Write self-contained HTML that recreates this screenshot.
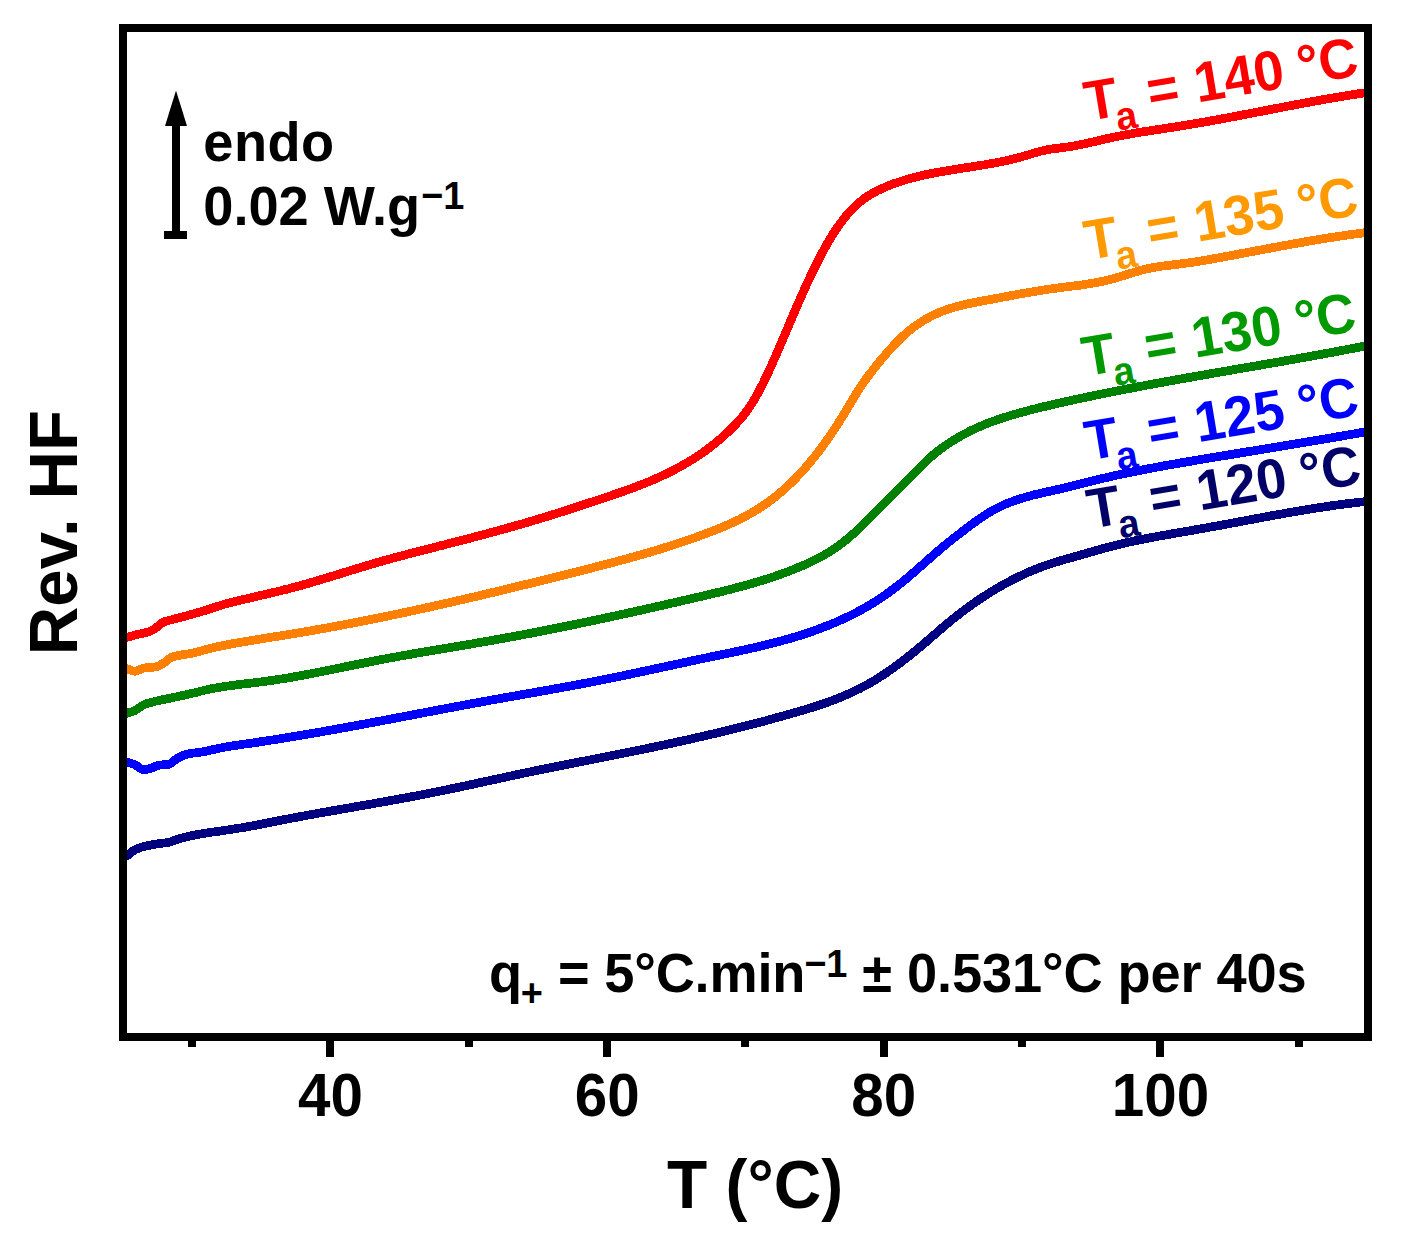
<!DOCTYPE html>
<html><head><meta charset="utf-8">
<style>
html,body{margin:0;padding:0;background:#fff;}
svg{display:block;font-family:"Liberation Sans",sans-serif;}
</style></head>
<body>
<svg width="1401" height="1244" viewBox="0 0 1401 1244">
<rect x="0" y="0" width="1401" height="1244" fill="#fff"/>
<defs><clipPath id="ax"><rect x="123" y="28" width="1245" height="1009"/></clipPath></defs>
<g clip-path="url(#ax)" shape-rendering="crispEdges">
<polyline points="123.0,858.0 124.5,857.2 126.0,856.3 127.5,855.4 129.0,854.3 130.5,853.0 132.0,851.8 133.5,850.7 135.0,849.8 136.5,849.1 138.0,848.5 139.5,847.9 141.0,847.4 142.5,846.9 144.0,846.5 145.5,846.1 147.0,845.8 148.5,845.5 150.0,845.2 151.5,844.9 153.0,844.6 154.5,844.4 156.0,844.1 157.5,843.9 159.0,843.7 160.5,843.5 162.0,843.3 163.5,843.1 165.0,842.9 166.5,842.7 168.0,842.4 169.5,842.1 171.0,841.7 172.5,841.2 174.0,840.6 175.5,840.1 177.0,839.5 178.5,839.0 180.0,838.6 181.5,838.2 183.0,837.8 184.5,837.4 186.0,837.0 187.5,836.7 189.0,836.3 190.5,836.0 192.0,835.6 193.5,835.3 195.0,835.0 196.5,834.7 198.0,834.4 199.5,834.2 201.0,833.9 202.5,833.6 204.0,833.4 205.5,833.1 207.0,832.9 208.5,832.7 210.0,832.5 211.5,832.2 213.0,832.0 214.5,831.8 216.0,831.6 217.5,831.4 219.0,831.2 220.5,831.0 222.0,830.8 223.5,830.5 225.0,830.3 226.5,830.1 228.0,829.9 229.5,829.6 231.0,829.4 232.5,829.2 234.0,828.9 235.5,828.7 237.0,828.5 238.5,828.2 240.0,828.0 241.5,827.8 243.0,827.5 244.5,827.3 246.0,827.0 247.5,826.7 249.0,826.5 250.5,826.2 252.0,825.9 253.5,825.7 255.0,825.4 256.5,825.1 258.0,824.8 259.5,824.5 261.0,824.2 262.5,823.9 264.0,823.6 265.5,823.3 267.0,823.0 268.5,822.7 270.0,822.4 271.5,822.1 273.0,821.8 274.5,821.5 276.0,821.2 277.5,820.9 279.0,820.6 280.5,820.3 282.0,820.0 283.5,819.7 285.0,819.4 286.5,819.2 288.0,818.9 289.5,818.6 291.0,818.3 292.5,818.0 294.0,817.7 295.5,817.5 297.0,817.2 298.5,816.9 300.0,816.6 301.5,816.3 303.0,816.1 304.5,815.8 306.0,815.5 307.5,815.2 309.0,815.0 310.5,814.7 312.0,814.4 313.5,814.1 315.0,813.9 316.5,813.6 318.0,813.3 319.5,813.1 321.0,812.8 322.5,812.5 324.0,812.3 325.5,812.0 327.0,811.7 328.5,811.5 330.0,811.2 331.5,810.9 333.0,810.7 334.5,810.4 336.0,810.2 337.5,809.9 339.0,809.6 340.5,809.4 342.0,809.1 343.5,808.8 345.0,808.6 346.5,808.3 348.0,808.1 349.5,807.8 351.0,807.5 352.5,807.3 354.0,807.0 355.5,806.7 357.0,806.5 358.5,806.2 360.0,806.0 361.5,805.7 363.0,805.4 364.5,805.2 366.0,804.9 367.5,804.6 369.0,804.4 370.5,804.1 372.0,803.9 373.5,803.6 375.0,803.3 376.5,803.1 378.0,802.8 379.5,802.5 381.0,802.3 382.5,802.0 384.0,801.7 385.5,801.5 387.0,801.2 388.5,800.9 390.0,800.7 391.5,800.4 393.0,800.1 394.5,799.8 396.0,799.6 397.5,799.3 399.0,799.0 400.5,798.7 402.0,798.5 403.5,798.2 405.0,797.9 406.5,797.6 408.0,797.4 409.5,797.1 411.0,796.8 412.5,796.5 414.0,796.2 415.5,796.0 417.0,795.7 418.5,795.4 420.0,795.1 421.5,794.8 423.0,794.5 424.5,794.2 426.0,793.9 427.5,793.6 429.0,793.3 430.5,793.0 432.0,792.7 433.5,792.4 435.0,792.1 436.5,791.8 438.0,791.5 439.5,791.2 441.0,790.9 442.5,790.6 444.0,790.3 445.5,790.0 447.0,789.7 448.5,789.4 450.0,789.1 451.5,788.7 453.0,788.4 454.5,788.1 456.0,787.8 457.5,787.5 459.0,787.2 460.5,786.8 462.0,786.5 463.5,786.2 465.0,785.9 466.5,785.6 468.0,785.2 469.5,784.9 471.0,784.6 472.5,784.3 474.0,783.9 475.5,783.6 477.0,783.3 478.5,783.0 480.0,782.6 481.5,782.3 483.0,782.0 484.5,781.7 486.0,781.3 487.5,781.0 489.0,780.7 490.5,780.4 492.0,780.0 493.5,779.7 495.0,779.4 496.5,779.1 498.0,778.7 499.5,778.4 501.0,778.1 502.5,777.8 504.0,777.4 505.5,777.1 507.0,776.8 508.5,776.5 510.0,776.1 511.5,775.8 513.0,775.5 514.5,775.2 516.0,774.8 517.5,774.5 519.0,774.2 520.5,773.9 522.0,773.6 523.5,773.2 525.0,772.9 526.5,772.6 528.0,772.3 529.5,772.0 531.0,771.7 532.5,771.4 534.0,771.1 535.5,770.7 537.0,770.4 538.5,770.1 540.0,769.8 541.5,769.5 543.0,769.2 544.5,768.9 546.0,768.6 547.5,768.3 549.0,768.0 550.5,767.7 552.0,767.4 553.5,767.1 555.0,766.8 556.5,766.5 558.0,766.2 559.5,765.9 561.0,765.6 562.5,765.3 564.0,765.0 565.5,764.7 567.0,764.4 568.5,764.1 570.0,763.8 571.5,763.5 573.0,763.2 574.5,762.9 576.0,762.6 577.5,762.3 579.0,762.0 580.5,761.7 582.0,761.4 583.5,761.1 585.0,760.9 586.5,760.6 588.0,760.3 589.5,760.0 591.0,759.7 592.5,759.4 594.0,759.1 595.5,758.8 597.0,758.5 598.5,758.2 600.0,757.9 601.5,757.6 603.0,757.3 604.5,757.0 606.0,756.7 607.5,756.4 609.0,756.1 610.5,755.8 612.0,755.5 613.5,755.2 615.0,754.9 616.5,754.6 618.0,754.3 619.5,754.0 621.0,753.7 622.5,753.4 624.0,753.1 625.5,752.8 627.0,752.5 628.5,752.2 630.0,751.9 631.5,751.6 633.0,751.3 634.5,751.0 636.0,750.7 637.5,750.4 639.0,750.1 640.5,749.8 642.0,749.5 643.5,749.2 645.0,748.9 646.5,748.6 648.0,748.2 649.5,747.9 651.0,747.6 652.5,747.3 654.0,747.0 655.5,746.7 657.0,746.4 658.5,746.0 660.0,745.7 661.5,745.4 663.0,745.1 664.5,744.8 666.0,744.4 667.5,744.1 669.0,743.8 670.5,743.5 672.0,743.2 673.5,742.8 675.0,742.5 676.5,742.2 678.0,741.8 679.5,741.5 681.0,741.2 682.5,740.9 684.0,740.5 685.5,740.2 687.0,739.9 688.5,739.5 690.0,739.2 691.5,738.8 693.0,738.5 694.5,738.2 696.0,737.8 697.5,737.5 699.0,737.1 700.5,736.8 702.0,736.5 703.5,736.1 705.0,735.8 706.5,735.4 708.0,735.1 709.5,734.7 711.0,734.4 712.5,734.0 714.0,733.7 715.5,733.3 717.0,733.0 718.5,732.6 720.0,732.2 721.5,731.9 723.0,731.5 724.5,731.2 726.0,730.8 727.5,730.4 729.0,730.1 730.5,729.7 732.0,729.3 733.5,729.0 735.0,728.6 736.5,728.2 738.0,727.8 739.5,727.5 741.0,727.1 742.5,726.7 744.0,726.3 745.5,726.0 747.0,725.6 748.5,725.2 750.0,724.8 751.5,724.4 753.0,724.0 754.5,723.6 756.0,723.2 757.5,722.9 759.0,722.5 760.5,722.1 762.0,721.7 763.5,721.3 765.0,720.9 766.5,720.5 768.0,720.1 769.5,719.7 771.0,719.3 772.5,718.9 774.0,718.4 775.5,718.0 777.0,717.6 778.5,717.2 780.0,716.8 781.5,716.4 783.0,716.0 784.5,715.5 786.0,715.1 787.5,714.7 789.0,714.3 790.5,713.8 792.0,713.4 793.5,713.0 795.0,712.5 796.5,712.1 798.0,711.7 799.5,711.2 801.0,710.8 802.5,710.4 804.0,709.9 805.5,709.5 807.0,709.0 808.5,708.5 810.0,708.1 811.5,707.6 813.0,707.1 814.5,706.7 816.0,706.2 817.5,705.7 819.0,705.2 820.5,704.7 822.0,704.2 823.5,703.7 825.0,703.1 826.5,702.6 828.0,702.1 829.5,701.5 831.0,701.0 832.5,700.4 834.0,699.9 835.5,699.3 837.0,698.7 838.5,698.1 840.0,697.5 841.5,696.9 843.0,696.3 844.5,695.6 846.0,695.0 847.5,694.3 849.0,693.7 850.5,693.0 852.0,692.3 853.5,691.6 855.0,690.9 856.5,690.1 858.0,689.4 859.5,688.7 861.0,687.9 862.5,687.1 864.0,686.3 865.5,685.5 867.0,684.7 868.5,683.9 870.0,683.0 871.5,682.1 873.0,681.3 874.5,680.4 876.0,679.5 877.5,678.5 879.0,677.6 880.5,676.6 882.0,675.7 883.5,674.7 885.0,673.7 886.5,672.7 888.0,671.6 889.5,670.6 891.0,669.5 892.5,668.5 894.0,667.4 895.5,666.3 897.0,665.2 898.5,664.1 900.0,663.0 901.5,661.8 903.0,660.7 904.5,659.5 906.0,658.4 907.5,657.2 909.0,656.0 910.5,654.8 912.0,653.6 913.5,652.4 915.0,651.1 916.5,649.9 918.0,648.7 919.5,647.4 921.0,646.2 922.5,644.9 924.0,643.6 925.5,642.4 927.0,641.1 928.5,639.8 930.0,638.5 931.5,637.2 933.0,635.9 934.5,634.6 936.0,633.3 937.5,632.0 939.0,630.7 940.5,629.4 942.0,628.1 943.5,626.8 945.0,625.6 946.5,624.3 948.0,623.0 949.5,621.8 951.0,620.6 952.5,619.3 954.0,618.1 955.5,616.9 957.0,615.7 958.5,614.6 960.0,613.4 961.5,612.2 963.0,611.1 964.5,610.0 966.0,608.9 967.5,607.8 969.0,606.7 970.5,605.6 972.0,604.5 973.5,603.5 975.0,602.4 976.5,601.4 978.0,600.4 979.5,599.3 981.0,598.3 982.5,597.4 984.0,596.4 985.5,595.4 987.0,594.5 988.5,593.5 990.0,592.6 991.5,591.6 993.0,590.7 994.5,589.8 996.0,588.9 997.5,588.1 999.0,587.2 1000.5,586.3 1002.0,585.5 1003.5,584.6 1005.0,583.8 1006.5,583.0 1008.0,582.2 1009.5,581.4 1011.0,580.6 1012.5,579.8 1014.0,579.0 1015.5,578.3 1017.0,577.5 1018.5,576.8 1020.0,576.1 1021.5,575.4 1023.0,574.7 1024.5,574.0 1026.0,573.3 1027.5,572.6 1029.0,572.0 1030.5,571.3 1032.0,570.7 1033.5,570.1 1035.0,569.5 1036.5,568.9 1038.0,568.3 1039.5,567.7 1041.0,567.1 1042.5,566.6 1044.0,566.0 1045.5,565.5 1047.0,565.0 1048.5,564.5 1050.0,564.0 1051.5,563.5 1053.0,563.0 1054.5,562.5 1056.0,562.1 1057.5,561.6 1059.0,561.1 1060.5,560.7 1062.0,560.3 1063.5,559.8 1065.0,559.4 1066.5,559.0 1068.0,558.5 1069.5,558.1 1071.0,557.7 1072.5,557.3 1074.0,556.9 1075.5,556.4 1077.0,556.0 1078.5,555.6 1080.0,555.2 1081.5,554.7 1083.0,554.3 1084.5,553.9 1086.0,553.5 1087.5,553.0 1089.0,552.6 1090.5,552.2 1092.0,551.7 1093.5,551.3 1095.0,550.9 1096.5,550.4 1098.0,550.0 1099.5,549.6 1101.0,549.2 1102.5,548.7 1104.0,548.3 1105.5,547.9 1107.0,547.5 1108.5,547.1 1110.0,546.7 1111.5,546.3 1113.0,545.9 1114.5,545.6 1116.0,545.2 1117.5,544.8 1119.0,544.5 1120.5,544.1 1122.0,543.7 1123.5,543.4 1125.0,543.0 1126.5,542.7 1128.0,542.4 1129.5,542.0 1131.0,541.7 1132.5,541.4 1134.0,541.1 1135.5,540.7 1137.0,540.4 1138.5,540.1 1140.0,539.8 1141.5,539.5 1143.0,539.2 1144.5,538.9 1146.0,538.6 1147.5,538.3 1149.0,538.0 1150.5,537.7 1152.0,537.4 1153.5,537.2 1155.0,536.9 1156.5,536.6 1158.0,536.3 1159.5,536.1 1161.0,535.8 1162.5,535.5 1164.0,535.2 1165.5,535.0 1167.0,534.7 1168.5,534.4 1170.0,534.2 1171.5,533.9 1173.0,533.6 1174.5,533.4 1176.0,533.1 1177.5,532.9 1179.0,532.6 1180.5,532.3 1182.0,532.1 1183.5,531.8 1185.0,531.6 1186.5,531.3 1188.0,531.0 1189.5,530.8 1191.0,530.5 1192.5,530.3 1194.0,530.0 1195.5,529.7 1197.0,529.5 1198.5,529.2 1200.0,529.0 1201.5,528.7 1203.0,528.4 1204.5,528.2 1206.0,527.9 1207.5,527.6 1209.0,527.3 1210.5,527.1 1212.0,526.8 1213.5,526.5 1215.0,526.3 1216.5,526.0 1218.0,525.7 1219.5,525.4 1221.0,525.2 1222.5,524.9 1224.0,524.6 1225.5,524.3 1227.0,524.0 1228.5,523.8 1230.0,523.5 1231.5,523.2 1233.0,522.9 1234.5,522.6 1236.0,522.4 1237.5,522.1 1239.0,521.8 1240.5,521.5 1242.0,521.2 1243.5,521.0 1245.0,520.7 1246.5,520.4 1248.0,520.1 1249.5,519.8 1251.0,519.6 1252.5,519.3 1254.0,519.0 1255.5,518.7 1257.0,518.4 1258.5,518.2 1260.0,517.9 1261.5,517.6 1263.0,517.3 1264.5,517.0 1266.0,516.8 1267.5,516.5 1269.0,516.2 1270.5,515.9 1272.0,515.7 1273.5,515.4 1275.0,515.1 1276.5,514.9 1278.0,514.6 1279.5,514.3 1281.0,514.0 1282.5,513.8 1284.0,513.5 1285.5,513.2 1287.0,513.0 1288.5,512.7 1290.0,512.5 1291.5,512.2 1293.0,511.9 1294.5,511.7 1296.0,511.4 1297.5,511.2 1299.0,510.9 1300.5,510.6 1302.0,510.4 1303.5,510.1 1305.0,509.9 1306.5,509.7 1308.0,509.4 1309.5,509.2 1311.0,508.9 1312.5,508.7 1314.0,508.4 1315.5,508.2 1317.0,508.0 1318.5,507.7 1320.0,507.5 1321.5,507.3 1323.0,507.0 1324.5,506.8 1326.0,506.6 1327.5,506.4 1329.0,506.2 1330.5,505.9 1332.0,505.7 1333.5,505.5 1335.0,505.3 1336.5,505.1 1338.0,504.9 1339.5,504.7 1341.0,504.5 1342.5,504.3 1344.0,504.1 1345.5,503.9 1347.0,503.7 1348.5,503.5 1350.0,503.3 1351.5,503.2 1353.0,503.0 1354.5,502.8 1356.0,502.6 1357.5,502.5 1359.0,502.3 1360.5,502.1 1362.0,502.0 1363.5,501.8 1365.0,501.6 1366.5,501.5 1368.0,501.3" fill="none" stroke="#000080" stroke-width="8.7" stroke-linejoin="round"/>
<polyline points="123.0,761.0 124.5,761.4 126.0,761.8 127.5,762.2 129.0,762.6 130.5,763.1 132.0,763.6 133.5,764.1 135.0,764.7 136.5,765.6 138.0,766.7 139.5,767.8 141.0,768.8 142.5,769.5 144.0,769.8 145.5,769.7 147.0,769.4 148.5,769.0 150.0,768.5 151.5,768.1 153.0,767.5 154.5,766.8 156.0,766.0 157.5,765.4 159.0,765.2 160.5,765.0 162.0,764.9 163.5,764.8 165.0,764.8 166.5,764.7 168.0,764.5 169.5,764.1 171.0,763.3 172.5,762.2 174.0,760.9 175.5,759.6 177.0,758.5 178.5,757.7 180.0,757.0 181.5,756.2 183.0,755.6 184.5,755.0 186.0,754.5 187.5,754.1 189.0,753.8 190.5,753.5 192.0,753.3 193.5,753.1 195.0,752.9 196.5,752.7 198.0,752.5 199.5,752.3 201.0,752.1 202.5,751.9 204.0,751.6 205.5,751.3 207.0,751.0 208.5,750.6 210.0,750.3 211.5,749.9 213.0,749.6 214.5,749.3 216.0,748.9 217.5,748.6 219.0,748.3 220.5,748.0 222.0,747.7 223.5,747.4 225.0,747.1 226.5,746.8 228.0,746.6 229.5,746.3 231.0,746.1 232.5,745.9 234.0,745.7 235.5,745.4 237.0,745.2 238.5,745.0 240.0,744.8 241.5,744.6 243.0,744.3 244.5,744.1 246.0,743.9 247.5,743.7 249.0,743.5 250.5,743.3 252.0,743.0 253.5,742.8 255.0,742.6 256.5,742.4 258.0,742.2 259.5,741.9 261.0,741.7 262.5,741.5 264.0,741.3 265.5,741.0 267.0,740.8 268.5,740.6 270.0,740.3 271.5,740.1 273.0,739.9 274.5,739.6 276.0,739.4 277.5,739.2 279.0,738.9 280.5,738.7 282.0,738.5 283.5,738.2 285.0,738.0 286.5,737.7 288.0,737.5 289.5,737.2 291.0,737.0 292.5,736.7 294.0,736.5 295.5,736.2 297.0,736.0 298.5,735.7 300.0,735.5 301.5,735.2 303.0,735.0 304.5,734.7 306.0,734.5 307.5,734.2 309.0,734.0 310.5,733.7 312.0,733.4 313.5,733.2 315.0,732.9 316.5,732.7 318.0,732.4 319.5,732.1 321.0,731.9 322.5,731.6 324.0,731.3 325.5,731.1 327.0,730.8 328.5,730.5 330.0,730.3 331.5,730.0 333.0,729.7 334.5,729.5 336.0,729.2 337.5,728.9 339.0,728.7 340.5,728.4 342.0,728.1 343.5,727.8 345.0,727.6 346.5,727.3 348.0,727.0 349.5,726.7 351.0,726.5 352.5,726.2 354.0,725.9 355.5,725.6 357.0,725.4 358.5,725.1 360.0,724.8 361.5,724.5 363.0,724.2 364.5,724.0 366.0,723.7 367.5,723.4 369.0,723.1 370.5,722.8 372.0,722.6 373.5,722.3 375.0,722.0 376.5,721.7 378.0,721.4 379.5,721.2 381.0,720.9 382.5,720.6 384.0,720.3 385.5,720.0 387.0,719.7 388.5,719.4 390.0,719.2 391.5,718.9 393.0,718.6 394.5,718.3 396.0,718.0 397.5,717.7 399.0,717.5 400.5,717.2 402.0,716.9 403.5,716.6 405.0,716.3 406.5,716.0 408.0,715.7 409.5,715.4 411.0,715.2 412.5,714.9 414.0,714.6 415.5,714.3 417.0,714.0 418.5,713.7 420.0,713.4 421.5,713.2 423.0,712.9 424.5,712.6 426.0,712.3 427.5,712.0 429.0,711.7 430.5,711.4 432.0,711.2 433.5,710.9 435.0,710.6 436.5,710.3 438.0,710.0 439.5,709.7 441.0,709.4 442.5,709.2 444.0,708.9 445.5,708.6 447.0,708.3 448.5,708.0 450.0,707.7 451.5,707.5 453.0,707.2 454.5,706.9 456.0,706.6 457.5,706.3 459.0,706.1 460.5,705.8 462.0,705.5 463.5,705.2 465.0,704.9 466.5,704.6 468.0,704.4 469.5,704.1 471.0,703.8 472.5,703.5 474.0,703.3 475.5,703.0 477.0,702.7 478.5,702.4 480.0,702.2 481.5,701.9 483.0,701.6 484.5,701.3 486.0,701.1 487.5,700.8 489.0,700.5 490.5,700.2 492.0,700.0 493.5,699.7 495.0,699.4 496.5,699.2 498.0,698.9 499.5,698.6 501.0,698.4 502.5,698.1 504.0,697.8 505.5,697.6 507.0,697.3 508.5,697.0 510.0,696.8 511.5,696.5 513.0,696.2 514.5,696.0 516.0,695.7 517.5,695.4 519.0,695.2 520.5,694.9 522.0,694.6 523.5,694.4 525.0,694.1 526.5,693.8 528.0,693.6 529.5,693.3 531.0,693.0 532.5,692.8 534.0,692.5 535.5,692.3 537.0,692.0 538.5,691.7 540.0,691.5 541.5,691.2 543.0,690.9 544.5,690.7 546.0,690.4 547.5,690.1 549.0,689.9 550.5,689.6 552.0,689.3 553.5,689.0 555.0,688.8 556.5,688.5 558.0,688.2 559.5,688.0 561.0,687.7 562.5,687.4 564.0,687.1 565.5,686.9 567.0,686.6 568.5,686.3 570.0,686.0 571.5,685.8 573.0,685.5 574.5,685.2 576.0,684.9 577.5,684.7 579.0,684.4 580.5,684.1 582.0,683.8 583.5,683.5 585.0,683.2 586.5,683.0 588.0,682.7 589.5,682.4 591.0,682.1 592.5,681.8 594.0,681.5 595.5,681.2 597.0,680.9 598.5,680.6 600.0,680.3 601.5,680.0 603.0,679.7 604.5,679.4 606.0,679.1 607.5,678.8 609.0,678.5 610.5,678.2 612.0,677.9 613.5,677.6 615.0,677.3 616.5,677.0 618.0,676.7 619.5,676.4 621.0,676.1 622.5,675.8 624.0,675.5 625.5,675.1 627.0,674.8 628.5,674.5 630.0,674.2 631.5,673.9 633.0,673.6 634.5,673.2 636.0,672.9 637.5,672.6 639.0,672.3 640.5,672.0 642.0,671.6 643.5,671.3 645.0,671.0 646.5,670.7 648.0,670.4 649.5,670.0 651.0,669.7 652.5,669.4 654.0,669.1 655.5,668.7 657.0,668.4 658.5,668.1 660.0,667.8 661.5,667.4 663.0,667.1 664.5,666.8 666.0,666.5 667.5,666.1 669.0,665.8 670.5,665.5 672.0,665.2 673.5,664.8 675.0,664.5 676.5,664.2 678.0,663.9 679.5,663.5 681.0,663.2 682.5,662.9 684.0,662.6 685.5,662.3 687.0,661.9 688.5,661.6 690.0,661.3 691.5,661.0 693.0,660.6 694.5,660.3 696.0,660.0 697.5,659.7 699.0,659.4 700.5,659.0 702.0,658.7 703.5,658.4 705.0,658.1 706.5,657.8 708.0,657.5 709.5,657.2 711.0,656.8 712.5,656.5 714.0,656.2 715.5,655.9 717.0,655.6 718.5,655.3 720.0,655.0 721.5,654.7 723.0,654.3 724.5,654.0 726.0,653.7 727.5,653.4 729.0,653.1 730.5,652.8 732.0,652.5 733.5,652.1 735.0,651.8 736.5,651.5 738.0,651.2 739.5,650.9 741.0,650.5 742.5,650.2 744.0,649.9 745.5,649.5 747.0,649.2 748.5,648.9 750.0,648.5 751.5,648.2 753.0,647.9 754.5,647.5 756.0,647.2 757.5,646.8 759.0,646.5 760.5,646.1 762.0,645.8 763.5,645.4 765.0,645.1 766.5,644.7 768.0,644.3 769.5,643.9 771.0,643.6 772.5,643.2 774.0,642.8 775.5,642.4 777.0,642.0 778.5,641.6 780.0,641.2 781.5,640.8 783.0,640.4 784.5,640.0 786.0,639.6 787.5,639.1 789.0,638.7 790.5,638.3 792.0,637.8 793.5,637.4 795.0,636.9 796.5,636.5 798.0,636.0 799.5,635.6 801.0,635.1 802.5,634.6 804.0,634.1 805.5,633.6 807.0,633.1 808.5,632.6 810.0,632.1 811.5,631.6 813.0,631.1 814.5,630.6 816.0,630.0 817.5,629.5 819.0,628.9 820.5,628.4 822.0,627.8 823.5,627.2 825.0,626.6 826.5,626.1 828.0,625.5 829.5,624.9 831.0,624.2 832.5,623.6 834.0,623.0 835.5,622.4 837.0,621.7 838.5,621.1 840.0,620.4 841.5,619.7 843.0,619.0 844.5,618.3 846.0,617.6 847.5,616.9 849.0,616.2 850.5,615.5 852.0,614.7 853.5,613.9 855.0,613.2 856.5,612.4 858.0,611.6 859.5,610.8 861.0,610.0 862.5,609.2 864.0,608.3 865.5,607.5 867.0,606.6 868.5,605.7 870.0,604.8 871.5,603.9 873.0,603.0 874.5,602.1 876.0,601.1 877.5,600.1 879.0,599.2 880.5,598.2 882.0,597.2 883.5,596.2 885.0,595.1 886.5,594.1 888.0,593.0 889.5,591.9 891.0,590.8 892.5,589.7 894.0,588.6 895.5,587.4 897.0,586.3 898.5,585.1 900.0,583.9 901.5,582.7 903.0,581.5 904.5,580.2 906.0,579.0 907.5,577.7 909.0,576.5 910.5,575.2 912.0,573.9 913.5,572.6 915.0,571.3 916.5,570.0 918.0,568.6 919.5,567.3 921.0,566.0 922.5,564.7 924.0,563.3 925.5,562.0 927.0,560.7 928.5,559.4 930.0,558.0 931.5,556.7 933.0,555.4 934.5,554.1 936.0,552.8 937.5,551.5 939.0,550.2 940.5,548.9 942.0,547.6 943.5,546.4 945.0,545.1 946.5,543.9 948.0,542.7 949.5,541.5 951.0,540.3 952.5,539.1 954.0,537.9 955.5,536.8 957.0,535.6 958.5,534.5 960.0,533.3 961.5,532.1 963.0,531.0 964.5,529.8 966.0,528.7 967.5,527.5 969.0,526.4 970.5,525.3 972.0,524.2 973.5,523.1 975.0,522.0 976.5,520.9 978.0,519.8 979.5,518.8 981.0,517.8 982.5,516.8 984.0,515.8 985.5,514.8 987.0,513.8 988.5,512.9 990.0,512.0 991.5,511.1 993.0,510.3 994.5,509.5 996.0,508.7 997.5,507.9 999.0,507.2 1000.5,506.4 1002.0,505.7 1003.5,505.1 1005.0,504.4 1006.5,503.8 1008.0,503.1 1009.5,502.5 1011.0,502.0 1012.5,501.4 1014.0,500.8 1015.5,500.3 1017.0,499.8 1018.5,499.3 1020.0,498.8 1021.5,498.4 1023.0,497.9 1024.5,497.5 1026.0,497.0 1027.5,496.6 1029.0,496.2 1030.5,495.8 1032.0,495.4 1033.5,495.0 1035.0,494.6 1036.5,494.3 1038.0,493.9 1039.5,493.6 1041.0,493.2 1042.5,492.9 1044.0,492.5 1045.5,492.2 1047.0,491.8 1048.5,491.5 1050.0,491.2 1051.5,490.8 1053.0,490.5 1054.5,490.2 1056.0,489.8 1057.5,489.5 1059.0,489.2 1060.5,488.8 1062.0,488.5 1063.5,488.1 1065.0,487.7 1066.5,487.4 1068.0,487.0 1069.5,486.7 1071.0,486.3 1072.5,485.9 1074.0,485.5 1075.5,485.2 1077.0,484.8 1078.5,484.4 1080.0,484.0 1081.5,483.7 1083.0,483.3 1084.5,482.9 1086.0,482.5 1087.5,482.2 1089.0,481.8 1090.5,481.4 1092.0,481.0 1093.5,480.7 1095.0,480.3 1096.5,479.9 1098.0,479.5 1099.5,479.2 1101.0,478.8 1102.5,478.5 1104.0,478.1 1105.5,477.8 1107.0,477.4 1108.5,477.1 1110.0,476.7 1111.5,476.4 1113.0,476.0 1114.5,475.7 1116.0,475.4 1117.5,475.0 1119.0,474.7 1120.5,474.4 1122.0,474.1 1123.5,473.7 1125.0,473.4 1126.5,473.1 1128.0,472.8 1129.5,472.5 1131.0,472.2 1132.5,471.9 1134.0,471.6 1135.5,471.3 1137.0,471.0 1138.5,470.7 1140.0,470.4 1141.5,470.1 1143.0,469.8 1144.5,469.5 1146.0,469.2 1147.5,468.9 1149.0,468.6 1150.5,468.3 1152.0,468.1 1153.5,467.8 1155.0,467.5 1156.5,467.2 1158.0,466.9 1159.5,466.7 1161.0,466.4 1162.5,466.1 1164.0,465.8 1165.5,465.6 1167.0,465.3 1168.5,465.0 1170.0,464.8 1171.5,464.5 1173.0,464.2 1174.5,464.0 1176.0,463.7 1177.5,463.5 1179.0,463.2 1180.5,462.9 1182.0,462.7 1183.5,462.4 1185.0,462.2 1186.5,461.9 1188.0,461.7 1189.5,461.4 1191.0,461.2 1192.5,460.9 1194.0,460.6 1195.5,460.4 1197.0,460.1 1198.5,459.9 1200.0,459.6 1201.5,459.4 1203.0,459.1 1204.5,458.9 1206.0,458.6 1207.5,458.4 1209.0,458.1 1210.5,457.9 1212.0,457.6 1213.5,457.4 1215.0,457.1 1216.5,456.9 1218.0,456.6 1219.5,456.4 1221.0,456.1 1222.5,455.9 1224.0,455.6 1225.5,455.4 1227.0,455.2 1228.5,454.9 1230.0,454.7 1231.5,454.4 1233.0,454.2 1234.5,453.9 1236.0,453.7 1237.5,453.4 1239.0,453.2 1240.5,452.9 1242.0,452.7 1243.5,452.4 1245.0,452.2 1246.5,451.9 1248.0,451.7 1249.5,451.5 1251.0,451.2 1252.5,451.0 1254.0,450.7 1255.5,450.5 1257.0,450.2 1258.5,450.0 1260.0,449.7 1261.5,449.5 1263.0,449.2 1264.5,449.0 1266.0,448.7 1267.5,448.5 1269.0,448.3 1270.5,448.0 1272.0,447.8 1273.5,447.5 1275.0,447.3 1276.5,447.0 1278.0,446.8 1279.5,446.5 1281.0,446.3 1282.5,446.0 1284.0,445.8 1285.5,445.5 1287.0,445.3 1288.5,445.0 1290.0,444.8 1291.5,444.5 1293.0,444.3 1294.5,444.0 1296.0,443.8 1297.5,443.5 1299.0,443.3 1300.5,443.0 1302.0,442.8 1303.5,442.5 1305.0,442.3 1306.5,442.0 1308.0,441.8 1309.5,441.5 1311.0,441.3 1312.5,441.0 1314.0,440.8 1315.5,440.5 1317.0,440.3 1318.5,440.0 1320.0,439.8 1321.5,439.5 1323.0,439.3 1324.5,439.0 1326.0,438.7 1327.5,438.5 1329.0,438.2 1330.5,438.0 1332.0,437.7 1333.5,437.5 1335.0,437.2 1336.5,436.9 1338.0,436.7 1339.5,436.4 1341.0,436.2 1342.5,435.9 1344.0,435.6 1345.5,435.4 1347.0,435.1 1348.5,434.9 1350.0,434.6 1351.5,434.3 1353.0,434.1 1354.5,433.8 1356.0,433.5 1357.5,433.3 1359.0,433.0 1360.5,432.7 1362.0,432.5 1363.5,432.2 1365.0,431.9 1366.5,431.7 1368.0,431.4" fill="none" stroke="#0000ff" stroke-width="8.7" stroke-linejoin="round"/>
<polyline points="123.0,714.5 124.5,714.0 126.0,713.5 127.5,713.0 129.0,712.5 130.5,712.1 132.0,711.6 133.5,711.1 135.0,710.5 136.5,709.6 138.0,708.6 139.5,707.5 141.0,706.5 142.5,705.5 144.0,704.7 145.5,704.2 147.0,703.6 148.5,703.1 150.0,702.7 151.5,702.3 153.0,701.9 154.5,701.5 156.0,701.1 157.5,700.8 159.0,700.5 160.5,700.1 162.0,699.8 163.5,699.5 165.0,699.3 166.5,699.0 168.0,698.6 169.5,698.3 171.0,698.0 172.5,697.7 174.0,697.4 175.5,697.0 177.0,696.7 178.5,696.4 180.0,696.0 181.5,695.7 183.0,695.4 184.5,695.1 186.0,694.7 187.5,694.4 189.0,694.0 190.5,693.7 192.0,693.4 193.5,693.0 195.0,692.7 196.5,692.3 198.0,691.9 199.5,691.5 201.0,691.1 202.5,690.8 204.0,690.4 205.5,690.0 207.0,689.7 208.5,689.3 210.0,689.0 211.5,688.7 213.0,688.4 214.5,688.1 216.0,687.9 217.5,687.6 219.0,687.4 220.5,687.1 222.0,686.9 223.5,686.7 225.0,686.5 226.5,686.2 228.0,686.0 229.5,685.8 231.0,685.6 232.5,685.4 234.0,685.2 235.5,685.0 237.0,684.8 238.5,684.6 240.0,684.4 241.5,684.2 243.0,684.1 244.5,683.9 246.0,683.7 247.5,683.5 249.0,683.3 250.5,683.2 252.0,683.0 253.5,682.8 255.0,682.6 256.5,682.4 258.0,682.3 259.5,682.1 261.0,681.9 262.5,681.7 264.0,681.5 265.5,681.3 267.0,681.1 268.5,680.9 270.0,680.7 271.5,680.5 273.0,680.2 274.5,680.0 276.0,679.8 277.5,679.6 279.0,679.3 280.5,679.1 282.0,678.9 283.5,678.6 285.0,678.4 286.5,678.1 288.0,677.9 289.5,677.6 291.0,677.4 292.5,677.1 294.0,676.8 295.5,676.6 297.0,676.3 298.5,676.0 300.0,675.8 301.5,675.5 303.0,675.2 304.5,674.9 306.0,674.6 307.5,674.4 309.0,674.1 310.5,673.8 312.0,673.5 313.5,673.2 315.0,672.9 316.5,672.6 318.0,672.3 319.5,672.0 321.0,671.7 322.5,671.4 324.0,671.1 325.5,670.8 327.0,670.5 328.5,670.2 330.0,669.9 331.5,669.6 333.0,669.3 334.5,669.0 336.0,668.7 337.5,668.4 339.0,668.1 340.5,667.8 342.0,667.5 343.5,667.2 345.0,666.8 346.5,666.5 348.0,666.2 349.5,665.9 351.0,665.6 352.5,665.3 354.0,665.0 355.5,664.7 357.0,664.4 358.5,664.1 360.0,663.8 361.5,663.5 363.0,663.2 364.5,662.9 366.0,662.6 367.5,662.3 369.0,662.0 370.5,661.7 372.0,661.4 373.5,661.1 375.0,660.8 376.5,660.5 378.0,660.2 379.5,659.9 381.0,659.6 382.5,659.4 384.0,659.1 385.5,658.8 387.0,658.5 388.5,658.2 390.0,658.0 391.5,657.7 393.0,657.4 394.5,657.1 396.0,656.9 397.5,656.6 399.0,656.3 400.5,656.0 402.0,655.8 403.5,655.5 405.0,655.2 406.5,655.0 408.0,654.7 409.5,654.4 411.0,654.2 412.5,653.9 414.0,653.7 415.5,653.4 417.0,653.1 418.5,652.9 420.0,652.6 421.5,652.4 423.0,652.1 424.5,651.9 426.0,651.6 427.5,651.3 429.0,651.1 430.5,650.8 432.0,650.6 433.5,650.3 435.0,650.1 436.5,649.8 438.0,649.6 439.5,649.3 441.0,649.1 442.5,648.8 444.0,648.6 445.5,648.3 447.0,648.1 448.5,647.8 450.0,647.6 451.5,647.3 453.0,647.0 454.5,646.8 456.0,646.5 457.5,646.3 459.0,646.0 460.5,645.8 462.0,645.5 463.5,645.3 465.0,645.0 466.5,644.8 468.0,644.5 469.5,644.3 471.0,644.0 472.5,643.8 474.0,643.5 475.5,643.2 477.0,643.0 478.5,642.7 480.0,642.5 481.5,642.2 483.0,641.9 484.5,641.7 486.0,641.4 487.5,641.2 489.0,640.9 490.5,640.6 492.0,640.4 493.5,640.1 495.0,639.8 496.5,639.6 498.0,639.3 499.5,639.0 501.0,638.8 502.5,638.5 504.0,638.2 505.5,637.9 507.0,637.7 508.5,637.4 510.0,637.1 511.5,636.8 513.0,636.6 514.5,636.3 516.0,636.0 517.5,635.7 519.0,635.4 520.5,635.2 522.0,634.9 523.5,634.6 525.0,634.3 526.5,634.0 528.0,633.7 529.5,633.4 531.0,633.2 532.5,632.9 534.0,632.6 535.5,632.3 537.0,632.0 538.5,631.7 540.0,631.4 541.5,631.1 543.0,630.8 544.5,630.5 546.0,630.2 547.5,629.9 549.0,629.6 550.5,629.3 552.0,629.0 553.5,628.7 555.0,628.4 556.5,628.1 558.0,627.8 559.5,627.5 561.0,627.2 562.5,626.9 564.0,626.6 565.5,626.3 567.0,626.0 568.5,625.7 570.0,625.4 571.5,625.1 573.0,624.8 574.5,624.5 576.0,624.2 577.5,623.9 579.0,623.5 580.5,623.2 582.0,622.9 583.5,622.6 585.0,622.3 586.5,622.0 588.0,621.7 589.5,621.3 591.0,621.0 592.5,620.7 594.0,620.4 595.5,620.1 597.0,619.8 598.5,619.4 600.0,619.1 601.5,618.8 603.0,618.5 604.5,618.2 606.0,617.8 607.5,617.5 609.0,617.2 610.5,616.9 612.0,616.5 613.5,616.2 615.0,615.9 616.5,615.6 618.0,615.2 619.5,614.9 621.0,614.6 622.5,614.2 624.0,613.9 625.5,613.6 627.0,613.3 628.5,612.9 630.0,612.6 631.5,612.3 633.0,611.9 634.5,611.6 636.0,611.3 637.5,610.9 639.0,610.6 640.5,610.3 642.0,609.9 643.5,609.6 645.0,609.3 646.5,608.9 648.0,608.6 649.5,608.2 651.0,607.9 652.5,607.6 654.0,607.2 655.5,606.9 657.0,606.6 658.5,606.2 660.0,605.9 661.5,605.5 663.0,605.2 664.5,604.8 666.0,604.5 667.5,604.2 669.0,603.8 670.5,603.5 672.0,603.1 673.5,602.8 675.0,602.4 676.5,602.1 678.0,601.7 679.5,601.4 681.0,601.1 682.5,600.7 684.0,600.4 685.5,600.0 687.0,599.7 688.5,599.3 690.0,599.0 691.5,598.6 693.0,598.3 694.5,597.9 696.0,597.6 697.5,597.2 699.0,596.9 700.5,596.5 702.0,596.2 703.5,595.8 705.0,595.5 706.5,595.1 708.0,594.8 709.5,594.4 711.0,594.1 712.5,593.7 714.0,593.3 715.5,593.0 717.0,592.6 718.5,592.3 720.0,591.9 721.5,591.5 723.0,591.2 724.5,590.8 726.0,590.4 727.5,590.0 729.0,589.7 730.5,589.3 732.0,588.9 733.5,588.5 735.0,588.1 736.5,587.7 738.0,587.3 739.5,586.9 741.0,586.5 742.5,586.1 744.0,585.7 745.5,585.3 747.0,584.9 748.5,584.5 750.0,584.0 751.5,583.6 753.0,583.2 754.5,582.7 756.0,582.3 757.5,581.9 759.0,581.4 760.5,580.9 762.0,580.5 763.5,580.0 765.0,579.5 766.5,579.1 768.0,578.6 769.5,578.1 771.0,577.6 772.5,577.1 774.0,576.6 775.5,576.1 777.0,575.6 778.5,575.0 780.0,574.5 781.5,574.0 783.0,573.4 784.5,572.9 786.0,572.3 787.5,571.8 789.0,571.2 790.5,570.6 792.0,570.0 793.5,569.4 795.0,568.8 796.5,568.2 798.0,567.6 799.5,567.0 801.0,566.3 802.5,565.7 804.0,565.0 805.5,564.4 807.0,563.7 808.5,563.0 810.0,562.3 811.5,561.6 813.0,560.9 814.5,560.1 816.0,559.4 817.5,558.6 819.0,557.8 820.5,557.0 822.0,556.2 823.5,555.4 825.0,554.5 826.5,553.6 828.0,552.7 829.5,551.8 831.0,550.9 832.5,549.9 834.0,548.9 835.5,547.9 837.0,546.8 838.5,545.8 840.0,544.7 841.5,543.5 843.0,542.4 844.5,541.2 846.0,540.0 847.5,538.8 849.0,537.5 850.5,536.2 852.0,534.9 853.5,533.6 855.0,532.2 856.5,530.9 858.0,529.5 859.5,528.1 861.0,526.6 862.5,525.2 864.0,523.7 865.5,522.3 867.0,520.8 868.5,519.3 870.0,517.8 871.5,516.3 873.0,514.8 874.5,513.3 876.0,511.8 877.5,510.2 879.0,508.7 880.5,507.2 882.0,505.7 883.5,504.1 885.0,502.6 886.5,501.1 888.0,499.6 889.5,498.1 891.0,496.6 892.5,495.1 894.0,493.6 895.5,492.1 897.0,490.6 898.5,489.1 900.0,487.6 901.5,486.1 903.0,484.6 904.5,483.1 906.0,481.6 907.5,480.1 909.0,478.5 910.5,477.0 912.0,475.5 913.5,473.9 915.0,472.4 916.5,470.8 918.0,469.3 919.5,467.8 921.0,466.3 922.5,464.8 924.0,463.3 925.5,461.9 927.0,460.5 928.5,459.1 930.0,457.7 931.5,456.4 933.0,455.1 934.5,453.8 936.0,452.6 937.5,451.4 939.0,450.2 940.5,449.1 942.0,448.0 943.5,446.9 945.0,445.8 946.5,444.8 948.0,443.8 949.5,442.8 951.0,441.8 952.5,440.9 954.0,440.0 955.5,439.0 957.0,438.1 958.5,437.3 960.0,436.4 961.5,435.6 963.0,434.7 964.5,433.9 966.0,433.2 967.5,432.4 969.0,431.6 970.5,430.9 972.0,430.1 973.5,429.4 975.0,428.7 976.5,428.0 978.0,427.4 979.5,426.7 981.0,426.1 982.5,425.4 984.0,424.8 985.5,424.2 987.0,423.6 988.5,423.0 990.0,422.4 991.5,421.9 993.0,421.3 994.5,420.8 996.0,420.3 997.5,419.7 999.0,419.2 1000.5,418.7 1002.0,418.2 1003.5,417.7 1005.0,417.3 1006.5,416.8 1008.0,416.3 1009.5,415.9 1011.0,415.4 1012.5,415.0 1014.0,414.5 1015.5,414.1 1017.0,413.7 1018.5,413.2 1020.0,412.8 1021.5,412.4 1023.0,412.0 1024.5,411.6 1026.0,411.2 1027.5,410.8 1029.0,410.4 1030.5,410.0 1032.0,409.6 1033.5,409.2 1035.0,408.9 1036.5,408.5 1038.0,408.1 1039.5,407.7 1041.0,407.4 1042.5,407.0 1044.0,406.6 1045.5,406.3 1047.0,405.9 1048.5,405.6 1050.0,405.2 1051.5,404.9 1053.0,404.5 1054.5,404.2 1056.0,403.8 1057.5,403.5 1059.0,403.1 1060.5,402.8 1062.0,402.5 1063.5,402.1 1065.0,401.8 1066.5,401.4 1068.0,401.1 1069.5,400.8 1071.0,400.5 1072.5,400.1 1074.0,399.8 1075.5,399.5 1077.0,399.1 1078.5,398.8 1080.0,398.5 1081.5,398.2 1083.0,397.9 1084.5,397.5 1086.0,397.2 1087.5,396.9 1089.0,396.6 1090.5,396.3 1092.0,396.0 1093.5,395.6 1095.0,395.3 1096.5,395.0 1098.0,394.7 1099.5,394.4 1101.0,394.1 1102.5,393.8 1104.0,393.5 1105.5,393.2 1107.0,392.9 1108.5,392.6 1110.0,392.3 1111.5,392.0 1113.0,391.7 1114.5,391.4 1116.0,391.1 1117.5,390.8 1119.0,390.5 1120.5,390.2 1122.0,389.9 1123.5,389.6 1125.0,389.3 1126.5,389.0 1128.0,388.7 1129.5,388.4 1131.0,388.2 1132.5,387.9 1134.0,387.6 1135.5,387.3 1137.0,387.0 1138.5,386.7 1140.0,386.4 1141.5,386.2 1143.0,385.9 1144.5,385.6 1146.0,385.3 1147.5,385.0 1149.0,384.8 1150.5,384.5 1152.0,384.2 1153.5,383.9 1155.0,383.6 1156.5,383.4 1158.0,383.1 1159.5,382.8 1161.0,382.5 1162.5,382.3 1164.0,382.0 1165.5,381.7 1167.0,381.4 1168.5,381.2 1170.0,380.9 1171.5,380.6 1173.0,380.4 1174.5,380.1 1176.0,379.8 1177.5,379.6 1179.0,379.3 1180.5,379.0 1182.0,378.7 1183.5,378.5 1185.0,378.2 1186.5,377.9 1188.0,377.7 1189.5,377.4 1191.0,377.2 1192.5,376.9 1194.0,376.6 1195.5,376.4 1197.0,376.1 1198.5,375.8 1200.0,375.6 1201.5,375.3 1203.0,375.0 1204.5,374.8 1206.0,374.5 1207.5,374.3 1209.0,374.0 1210.5,373.7 1212.0,373.5 1213.5,373.2 1215.0,373.0 1216.5,372.7 1218.0,372.4 1219.5,372.2 1221.0,371.9 1222.5,371.7 1224.0,371.4 1225.5,371.1 1227.0,370.9 1228.5,370.6 1230.0,370.4 1231.5,370.1 1233.0,369.8 1234.5,369.6 1236.0,369.3 1237.5,369.1 1239.0,368.8 1240.5,368.5 1242.0,368.3 1243.5,368.0 1245.0,367.8 1246.5,367.5 1248.0,367.2 1249.5,367.0 1251.0,366.7 1252.5,366.5 1254.0,366.2 1255.5,366.0 1257.0,365.7 1258.5,365.4 1260.0,365.2 1261.5,364.9 1263.0,364.7 1264.5,364.4 1266.0,364.1 1267.5,363.9 1269.0,363.6 1270.5,363.4 1272.0,363.1 1273.5,362.8 1275.0,362.6 1276.5,362.3 1278.0,362.0 1279.5,361.8 1281.0,361.5 1282.5,361.3 1284.0,361.0 1285.5,360.7 1287.0,360.5 1288.5,360.2 1290.0,359.9 1291.5,359.7 1293.0,359.4 1294.5,359.1 1296.0,358.9 1297.5,358.6 1299.0,358.3 1300.5,358.1 1302.0,357.8 1303.5,357.5 1305.0,357.3 1306.5,357.0 1308.0,356.7 1309.5,356.5 1311.0,356.2 1312.5,355.9 1314.0,355.7 1315.5,355.4 1317.0,355.1 1318.5,354.8 1320.0,354.6 1321.5,354.3 1323.0,354.0 1324.5,353.7 1326.0,353.5 1327.5,353.2 1329.0,352.9 1330.5,352.6 1332.0,352.4 1333.5,352.1 1335.0,351.8 1336.5,351.5 1338.0,351.2 1339.5,350.9 1341.0,350.7 1342.5,350.4 1344.0,350.1 1345.5,349.8 1347.0,349.5 1348.5,349.2 1350.0,349.0 1351.5,348.7 1353.0,348.4 1354.5,348.1 1356.0,347.8 1357.5,347.5 1359.0,347.2 1360.5,346.9 1362.0,346.6 1363.5,346.3 1365.0,346.0 1366.5,345.7 1368.0,345.4" fill="none" stroke="#008000" stroke-width="8.7" stroke-linejoin="round"/>
<polyline points="123.0,667.0 124.5,667.6 126.0,668.2 127.5,668.8 129.0,669.5 130.5,670.1 132.0,670.7 133.5,671.1 135.0,671.2 136.5,670.9 138.0,670.4 139.5,669.7 141.0,669.0 142.5,668.4 144.0,668.0 145.5,667.8 147.0,667.7 148.5,667.5 150.0,667.4 151.5,667.3 153.0,667.2 154.5,667.1 156.0,666.8 157.5,666.4 159.0,665.8 160.5,665.0 162.0,664.0 163.5,663.1 165.0,662.1 166.5,660.9 168.0,659.6 169.5,658.4 171.0,657.5 172.5,657.0 174.0,656.5 175.5,656.1 177.0,655.8 178.5,655.5 180.0,655.2 181.5,654.9 183.0,654.7 184.5,654.5 186.0,654.2 187.5,654.0 189.0,653.7 190.5,653.5 192.0,653.2 193.5,652.8 195.0,652.5 196.5,652.1 198.0,651.7 199.5,651.3 201.0,650.9 202.5,650.5 204.0,650.1 205.5,649.7 207.0,649.3 208.5,648.9 210.0,648.5 211.5,648.1 213.0,647.8 214.5,647.4 216.0,647.1 217.5,646.7 219.0,646.4 220.5,646.1 222.0,645.8 223.5,645.5 225.0,645.2 226.5,644.9 228.0,644.6 229.5,644.3 231.0,644.0 232.5,643.7 234.0,643.5 235.5,643.2 237.0,642.9 238.5,642.7 240.0,642.4 241.5,642.1 243.0,641.9 244.5,641.6 246.0,641.4 247.5,641.1 249.0,640.9 250.5,640.6 252.0,640.4 253.5,640.1 255.0,639.9 256.5,639.6 258.0,639.4 259.5,639.1 261.0,638.9 262.5,638.7 264.0,638.4 265.5,638.2 267.0,637.9 268.5,637.7 270.0,637.5 271.5,637.2 273.0,637.0 274.5,636.7 276.0,636.5 277.5,636.3 279.0,636.0 280.5,635.8 282.0,635.6 283.5,635.3 285.0,635.1 286.5,634.8 288.0,634.6 289.5,634.3 291.0,634.1 292.5,633.9 294.0,633.6 295.5,633.4 297.0,633.1 298.5,632.9 300.0,632.6 301.5,632.3 303.0,632.1 304.5,631.8 306.0,631.6 307.5,631.3 309.0,631.1 310.5,630.8 312.0,630.5 313.5,630.3 315.0,630.0 316.5,629.7 318.0,629.5 319.5,629.2 321.0,628.9 322.5,628.7 324.0,628.4 325.5,628.1 327.0,627.9 328.5,627.6 330.0,627.3 331.5,627.0 333.0,626.8 334.5,626.5 336.0,626.2 337.5,625.9 339.0,625.7 340.5,625.4 342.0,625.1 343.5,624.8 345.0,624.5 346.5,624.2 348.0,623.9 349.5,623.7 351.0,623.4 352.5,623.1 354.0,622.8 355.5,622.5 357.0,622.2 358.5,621.9 360.0,621.6 361.5,621.3 363.0,621.0 364.5,620.7 366.0,620.4 367.5,620.1 369.0,619.8 370.5,619.5 372.0,619.2 373.5,618.9 375.0,618.6 376.5,618.3 378.0,618.0 379.5,617.7 381.0,617.4 382.5,617.1 384.0,616.8 385.5,616.5 387.0,616.2 388.5,615.9 390.0,615.5 391.5,615.2 393.0,614.9 394.5,614.6 396.0,614.3 397.5,614.0 399.0,613.7 400.5,613.3 402.0,613.0 403.5,612.7 405.0,612.4 406.5,612.1 408.0,611.7 409.5,611.4 411.0,611.1 412.5,610.8 414.0,610.4 415.5,610.1 417.0,609.8 418.5,609.5 420.0,609.1 421.5,608.8 423.0,608.5 424.5,608.1 426.0,607.8 427.5,607.5 429.0,607.2 430.5,606.8 432.0,606.5 433.5,606.2 435.0,605.8 436.5,605.5 438.0,605.1 439.5,604.8 441.0,604.5 442.5,604.1 444.0,603.8 445.5,603.5 447.0,603.1 448.5,602.8 450.0,602.4 451.5,602.1 453.0,601.7 454.5,601.4 456.0,601.1 457.5,600.7 459.0,600.4 460.5,600.0 462.0,599.7 463.5,599.3 465.0,599.0 466.5,598.6 468.0,598.3 469.5,597.9 471.0,597.6 472.5,597.2 474.0,596.9 475.5,596.5 477.0,596.2 478.5,595.8 480.0,595.5 481.5,595.1 483.0,594.8 484.5,594.4 486.0,594.1 487.5,593.7 489.0,593.3 490.5,593.0 492.0,592.6 493.5,592.3 495.0,591.9 496.5,591.6 498.0,591.2 499.5,590.8 501.0,590.5 502.5,590.1 504.0,589.7 505.5,589.4 507.0,589.0 508.5,588.7 510.0,588.3 511.5,587.9 513.0,587.6 514.5,587.2 516.0,586.8 517.5,586.5 519.0,586.1 520.5,585.7 522.0,585.4 523.5,585.0 525.0,584.6 526.5,584.3 528.0,583.9 529.5,583.5 531.0,583.2 532.5,582.8 534.0,582.4 535.5,582.1 537.0,581.7 538.5,581.3 540.0,580.9 541.5,580.6 543.0,580.2 544.5,579.8 546.0,579.5 547.5,579.1 549.0,578.7 550.5,578.3 552.0,578.0 553.5,577.6 555.0,577.2 556.5,576.8 558.0,576.5 559.5,576.1 561.0,575.7 562.5,575.3 564.0,575.0 565.5,574.6 567.0,574.2 568.5,573.8 570.0,573.5 571.5,573.1 573.0,572.7 574.5,572.3 576.0,572.0 577.5,571.6 579.0,571.2 580.5,570.8 582.0,570.4 583.5,570.1 585.0,569.7 586.5,569.3 588.0,568.9 589.5,568.5 591.0,568.2 592.5,567.8 594.0,567.4 595.5,567.0 597.0,566.6 598.5,566.2 600.0,565.8 601.5,565.5 603.0,565.1 604.5,564.7 606.0,564.3 607.5,563.9 609.0,563.5 610.5,563.1 612.0,562.7 613.5,562.3 615.0,561.9 616.5,561.5 618.0,561.1 619.5,560.7 621.0,560.3 622.5,559.9 624.0,559.5 625.5,559.1 627.0,558.7 628.5,558.3 630.0,557.8 631.5,557.4 633.0,557.0 634.5,556.6 636.0,556.2 637.5,555.7 639.0,555.3 640.5,554.9 642.0,554.5 643.5,554.0 645.0,553.6 646.5,553.2 648.0,552.7 649.5,552.3 651.0,551.8 652.5,551.4 654.0,550.9 655.5,550.5 657.0,550.0 658.5,549.6 660.0,549.1 661.5,548.7 663.0,548.2 664.5,547.7 666.0,547.3 667.5,546.8 669.0,546.3 670.5,545.8 672.0,545.4 673.5,544.9 675.0,544.4 676.5,543.9 678.0,543.4 679.5,542.9 681.0,542.4 682.5,541.9 684.0,541.4 685.5,540.9 687.0,540.4 688.5,539.9 690.0,539.3 691.5,538.8 693.0,538.3 694.5,537.8 696.0,537.2 697.5,536.7 699.0,536.1 700.5,535.6 702.0,535.0 703.5,534.5 705.0,533.9 706.5,533.4 708.0,532.8 709.5,532.2 711.0,531.7 712.5,531.1 714.0,530.5 715.5,529.9 717.0,529.3 718.5,528.7 720.0,528.1 721.5,527.5 723.0,526.9 724.5,526.3 726.0,525.6 727.5,525.0 729.0,524.3 730.5,523.6 732.0,523.0 733.5,522.3 735.0,521.6 736.5,520.8 738.0,520.1 739.5,519.4 741.0,518.6 742.5,517.9 744.0,517.1 745.5,516.3 747.0,515.5 748.5,514.6 750.0,513.8 751.5,512.9 753.0,512.1 754.5,511.2 756.0,510.3 757.5,509.3 759.0,508.4 760.5,507.4 762.0,506.4 763.5,505.4 765.0,504.4 766.5,503.3 768.0,502.3 769.5,501.2 771.0,500.0 772.5,498.9 774.0,497.7 775.5,496.6 777.0,495.3 778.5,494.1 780.0,492.9 781.5,491.6 783.0,490.3 784.5,488.9 786.0,487.6 787.5,486.2 789.0,484.8 790.5,483.4 792.0,481.9 793.5,480.4 795.0,478.9 796.5,477.4 798.0,475.8 799.5,474.2 801.0,472.6 802.5,470.9 804.0,469.3 805.5,467.6 807.0,465.8 808.5,464.1 810.0,462.3 811.5,460.5 813.0,458.7 814.5,456.8 816.0,454.9 817.5,453.0 819.0,451.0 820.5,449.0 822.0,447.0 823.5,445.0 825.0,442.9 826.5,440.8 828.0,438.7 829.5,436.5 831.0,434.3 832.5,432.1 834.0,429.9 835.5,427.6 837.0,425.3 838.5,422.9 840.0,420.5 841.5,418.1 843.0,415.7 844.5,413.2 846.0,410.7 847.5,408.2 849.0,405.7 850.5,403.1 852.0,400.6 853.5,398.1 855.0,395.6 856.5,393.2 858.0,390.8 859.5,388.5 861.0,386.2 862.5,383.9 864.0,381.8 865.5,379.7 867.0,377.7 868.5,375.7 870.0,373.7 871.5,371.8 873.0,369.8 874.5,367.9 876.0,366.1 877.5,364.2 879.0,362.3 880.5,360.5 882.0,358.7 883.5,356.9 885.0,355.2 886.5,353.4 888.0,351.7 889.5,350.0 891.0,348.4 892.5,346.7 894.0,345.1 895.5,343.5 897.0,342.0 898.5,340.5 900.0,339.0 901.5,337.6 903.0,336.1 904.5,334.8 906.0,333.4 907.5,332.1 909.0,330.9 910.5,329.6 912.0,328.5 913.5,327.3 915.0,326.2 916.5,325.1 918.0,324.1 919.5,323.1 921.0,322.1 922.5,321.1 924.0,320.2 925.5,319.3 927.0,318.5 928.5,317.7 930.0,316.9 931.5,316.1 933.0,315.3 934.5,314.6 936.0,313.9 937.5,313.3 939.0,312.6 940.5,312.0 942.0,311.4 943.5,310.8 945.0,310.3 946.5,309.7 948.0,309.2 949.5,308.7 951.0,308.2 952.5,307.8 954.0,307.3 955.5,306.9 957.0,306.5 958.5,306.1 960.0,305.7 961.5,305.3 963.0,304.9 964.5,304.6 966.0,304.3 967.5,303.9 969.0,303.6 970.5,303.3 972.0,303.0 973.5,302.7 975.0,302.4 976.5,302.1 978.0,301.8 979.5,301.5 981.0,301.2 982.5,300.9 984.0,300.7 985.5,300.4 987.0,300.1 988.5,299.8 990.0,299.5 991.5,299.3 993.0,299.0 994.5,298.7 996.0,298.4 997.5,298.1 999.0,297.9 1000.5,297.6 1002.0,297.3 1003.5,297.0 1005.0,296.7 1006.5,296.4 1008.0,296.2 1009.5,295.9 1011.0,295.6 1012.5,295.3 1014.0,295.1 1015.5,294.8 1017.0,294.5 1018.5,294.2 1020.0,294.0 1021.5,293.7 1023.0,293.4 1024.5,293.2 1026.0,292.9 1027.5,292.6 1029.0,292.4 1030.5,292.1 1032.0,291.9 1033.5,291.6 1035.0,291.4 1036.5,291.1 1038.0,290.9 1039.5,290.6 1041.0,290.4 1042.5,290.1 1044.0,289.9 1045.5,289.7 1047.0,289.5 1048.5,289.2 1050.0,289.0 1051.5,288.8 1053.0,288.6 1054.5,288.4 1056.0,288.2 1057.5,288.0 1059.0,287.8 1060.5,287.6 1062.0,287.4 1063.5,287.2 1065.0,287.1 1066.5,286.9 1068.0,286.7 1069.5,286.5 1071.0,286.3 1072.5,286.1 1074.0,285.9 1075.5,285.8 1077.0,285.6 1078.5,285.4 1080.0,285.2 1081.5,285.0 1083.0,284.7 1084.5,284.5 1086.0,284.3 1087.5,284.1 1089.0,283.8 1090.5,283.6 1092.0,283.3 1093.5,283.1 1095.0,282.8 1096.5,282.5 1098.0,282.2 1099.5,281.9 1101.0,281.6 1102.5,281.3 1104.0,281.0 1105.5,280.6 1107.0,280.3 1108.5,279.9 1110.0,279.5 1111.5,279.1 1113.0,278.7 1114.5,278.3 1116.0,277.8 1117.5,277.4 1119.0,276.9 1120.5,276.5 1122.0,276.0 1123.5,275.6 1125.0,275.1 1126.5,274.6 1128.0,274.2 1129.5,273.7 1131.0,273.3 1132.5,272.8 1134.0,272.4 1135.5,271.9 1137.0,271.5 1138.5,271.0 1140.0,270.6 1141.5,270.2 1143.0,269.8 1144.5,269.5 1146.0,269.1 1147.5,268.7 1149.0,268.4 1150.5,268.1 1152.0,267.8 1153.5,267.5 1155.0,267.2 1156.5,267.0 1158.0,266.8 1159.5,266.5 1161.0,266.3 1162.5,266.1 1164.0,265.9 1165.5,265.7 1167.0,265.5 1168.5,265.4 1170.0,265.2 1171.5,265.0 1173.0,264.8 1174.5,264.7 1176.0,264.5 1177.5,264.3 1179.0,264.1 1180.5,263.9 1182.0,263.7 1183.5,263.5 1185.0,263.3 1186.5,263.1 1188.0,262.9 1189.5,262.7 1191.0,262.5 1192.5,262.3 1194.0,262.0 1195.5,261.8 1197.0,261.6 1198.5,261.3 1200.0,261.1 1201.5,260.8 1203.0,260.6 1204.5,260.3 1206.0,260.1 1207.5,259.8 1209.0,259.5 1210.5,259.3 1212.0,259.0 1213.5,258.7 1215.0,258.5 1216.5,258.2 1218.0,257.9 1219.5,257.7 1221.0,257.4 1222.5,257.1 1224.0,256.8 1225.5,256.5 1227.0,256.3 1228.5,256.0 1230.0,255.7 1231.5,255.4 1233.0,255.2 1234.5,254.9 1236.0,254.6 1237.5,254.3 1239.0,254.0 1240.5,253.7 1242.0,253.5 1243.5,253.2 1245.0,252.9 1246.5,252.6 1248.0,252.3 1249.5,252.0 1251.0,251.8 1252.5,251.5 1254.0,251.2 1255.5,250.9 1257.0,250.6 1258.5,250.3 1260.0,250.1 1261.5,249.8 1263.0,249.5 1264.5,249.2 1266.0,248.9 1267.5,248.7 1269.0,248.4 1270.5,248.1 1272.0,247.8 1273.5,247.5 1275.0,247.3 1276.5,247.0 1278.0,246.7 1279.5,246.4 1281.0,246.1 1282.5,245.9 1284.0,245.6 1285.5,245.3 1287.0,245.0 1288.5,244.8 1290.0,244.5 1291.5,244.2 1293.0,244.0 1294.5,243.7 1296.0,243.4 1297.5,243.1 1299.0,242.9 1300.5,242.6 1302.0,242.4 1303.5,242.1 1305.0,241.8 1306.5,241.6 1308.0,241.3 1309.5,241.0 1311.0,240.8 1312.5,240.5 1314.0,240.3 1315.5,240.0 1317.0,239.8 1318.5,239.5 1320.0,239.3 1321.5,239.0 1323.0,238.8 1324.5,238.5 1326.0,238.3 1327.5,238.1 1329.0,237.8 1330.5,237.6 1332.0,237.4 1333.5,237.1 1335.0,236.9 1336.5,236.7 1338.0,236.4 1339.5,236.2 1341.0,236.0 1342.5,235.8 1344.0,235.5 1345.5,235.3 1347.0,235.1 1348.5,234.9 1350.0,234.7 1351.5,234.5 1353.0,234.3 1354.5,234.1 1356.0,233.9 1357.5,233.7 1359.0,233.5 1360.5,233.3 1362.0,233.1 1363.5,232.9 1365.0,232.7 1366.5,232.5 1368.0,232.4" fill="none" stroke="#ff8000" stroke-width="8.7" stroke-linejoin="round"/>
<polyline points="123.0,638.5 124.5,638.0 126.0,637.6 127.5,637.1 129.0,636.7 130.5,636.3 132.0,635.9 133.5,635.5 135.0,635.1 136.5,634.7 138.0,634.3 139.5,634.0 141.0,633.7 142.5,633.4 144.0,633.1 145.5,632.7 147.0,632.4 148.5,631.9 150.0,631.4 151.5,630.6 153.0,629.8 154.5,628.8 156.0,627.8 157.5,626.7 159.0,625.5 160.5,624.2 162.0,623.0 163.5,622.2 165.0,621.6 166.5,621.1 168.0,620.6 169.5,620.2 171.0,619.9 172.5,619.5 174.0,619.0 175.5,618.6 177.0,618.2 178.5,617.8 180.0,617.4 181.5,617.1 183.0,616.7 184.5,616.3 186.0,615.9 187.5,615.5 189.0,615.1 190.5,614.7 192.0,614.3 193.5,613.9 195.0,613.4 196.5,613.0 198.0,612.6 199.5,612.1 201.0,611.7 202.5,611.2 204.0,610.7 205.5,610.3 207.0,609.8 208.5,609.3 210.0,608.8 211.5,608.4 213.0,607.9 214.5,607.4 216.0,606.9 217.5,606.4 219.0,605.9 220.5,605.5 222.0,605.0 223.5,604.5 225.0,604.1 226.5,603.7 228.0,603.3 229.5,602.9 231.0,602.5 232.5,602.1 234.0,601.8 235.5,601.4 237.0,601.0 238.5,600.7 240.0,600.3 241.5,599.9 243.0,599.6 244.5,599.2 246.0,598.9 247.5,598.5 249.0,598.2 250.5,597.8 252.0,597.5 253.5,597.1 255.0,596.8 256.5,596.4 258.0,596.1 259.5,595.7 261.0,595.4 262.5,595.0 264.0,594.7 265.5,594.3 267.0,594.0 268.5,593.6 270.0,593.3 271.5,592.9 273.0,592.6 274.5,592.2 276.0,591.9 277.5,591.5 279.0,591.1 280.5,590.8 282.0,590.4 283.5,590.0 285.0,589.6 286.5,589.3 288.0,588.9 289.5,588.5 291.0,588.1 292.5,587.7 294.0,587.3 295.5,586.9 297.0,586.5 298.5,586.1 300.0,585.7 301.5,585.3 303.0,584.8 304.5,584.4 306.0,584.0 307.5,583.6 309.0,583.1 310.5,582.7 312.0,582.3 313.5,581.8 315.0,581.4 316.5,580.9 318.0,580.5 319.5,580.0 321.0,579.6 322.5,579.1 324.0,578.7 325.5,578.2 327.0,577.8 328.5,577.3 330.0,576.9 331.5,576.4 333.0,575.9 334.5,575.5 336.0,575.0 337.5,574.6 339.0,574.1 340.5,573.6 342.0,573.2 343.5,572.7 345.0,572.2 346.5,571.8 348.0,571.3 349.5,570.9 351.0,570.4 352.5,569.9 354.0,569.5 355.5,569.0 357.0,568.6 358.5,568.1 360.0,567.6 361.5,567.2 363.0,566.7 364.5,566.3 366.0,565.8 367.5,565.4 369.0,564.9 370.5,564.5 372.0,564.1 373.5,563.6 375.0,563.2 376.5,562.7 378.0,562.3 379.5,561.9 381.0,561.5 382.5,561.0 384.0,560.6 385.5,560.2 387.0,559.8 388.5,559.4 390.0,559.0 391.5,558.5 393.0,558.1 394.5,557.7 396.0,557.3 397.5,556.9 399.0,556.5 400.5,556.1 402.0,555.7 403.5,555.3 405.0,554.9 406.5,554.5 408.0,554.1 409.5,553.7 411.0,553.4 412.5,553.0 414.0,552.6 415.5,552.2 417.0,551.8 418.5,551.4 420.0,551.0 421.5,550.6 423.0,550.3 424.5,549.9 426.0,549.5 427.5,549.1 429.0,548.7 430.5,548.3 432.0,547.9 433.5,547.6 435.0,547.2 436.5,546.8 438.0,546.4 439.5,546.0 441.0,545.6 442.5,545.3 444.0,544.9 445.5,544.5 447.0,544.1 448.5,543.7 450.0,543.3 451.5,542.9 453.0,542.6 454.5,542.2 456.0,541.8 457.5,541.4 459.0,541.0 460.5,540.6 462.0,540.2 463.5,539.8 465.0,539.4 466.5,539.1 468.0,538.7 469.5,538.3 471.0,537.9 472.5,537.5 474.0,537.1 475.5,536.7 477.0,536.3 478.5,535.9 480.0,535.5 481.5,535.1 483.0,534.7 484.5,534.3 486.0,533.9 487.5,533.5 489.0,533.1 490.5,532.7 492.0,532.3 493.5,531.9 495.0,531.5 496.5,531.1 498.0,530.6 499.5,530.2 501.0,529.8 502.5,529.4 504.0,529.0 505.5,528.6 507.0,528.2 508.5,527.7 510.0,527.3 511.5,526.9 513.0,526.5 514.5,526.0 516.0,525.6 517.5,525.2 519.0,524.8 520.5,524.3 522.0,523.9 523.5,523.5 525.0,523.0 526.5,522.6 528.0,522.1 529.5,521.7 531.0,521.3 532.5,520.8 534.0,520.4 535.5,519.9 537.0,519.5 538.5,519.0 540.0,518.6 541.5,518.1 543.0,517.7 544.5,517.2 546.0,516.7 547.5,516.3 549.0,515.8 550.5,515.3 552.0,514.9 553.5,514.4 555.0,513.9 556.5,513.5 558.0,513.0 559.5,512.5 561.0,512.0 562.5,511.6 564.0,511.1 565.5,510.6 567.0,510.1 568.5,509.6 570.0,509.1 571.5,508.7 573.0,508.2 574.5,507.7 576.0,507.2 577.5,506.7 579.0,506.2 580.5,505.7 582.0,505.2 583.5,504.7 585.0,504.2 586.5,503.7 588.0,503.2 589.5,502.7 591.0,502.2 592.5,501.8 594.0,501.3 595.5,500.8 597.0,500.3 598.5,499.8 600.0,499.3 601.5,498.8 603.0,498.3 604.5,497.8 606.0,497.3 607.5,496.8 609.0,496.3 610.5,495.8 612.0,495.2 613.5,494.7 615.0,494.2 616.5,493.7 618.0,493.2 619.5,492.7 621.0,492.2 622.5,491.6 624.0,491.1 625.5,490.6 627.0,490.0 628.5,489.5 630.0,489.0 631.5,488.4 633.0,487.9 634.5,487.3 636.0,486.7 637.5,486.2 639.0,485.6 640.5,485.0 642.0,484.4 643.5,483.8 645.0,483.2 646.5,482.6 648.0,482.0 649.5,481.4 651.0,480.7 652.5,480.1 654.0,479.5 655.5,478.8 657.0,478.1 658.5,477.5 660.0,476.8 661.5,476.1 663.0,475.4 664.5,474.7 666.0,474.0 667.5,473.2 669.0,472.5 670.5,471.7 672.0,471.0 673.5,470.2 675.0,469.4 676.5,468.6 678.0,467.8 679.5,467.0 681.0,466.2 682.5,465.3 684.0,464.5 685.5,463.6 687.0,462.7 688.5,461.8 690.0,460.9 691.5,460.0 693.0,459.1 694.5,458.1 696.0,457.1 697.5,456.2 699.0,455.2 700.5,454.1 702.0,453.1 703.5,452.1 705.0,451.0 706.5,449.9 708.0,448.8 709.5,447.7 711.0,446.5 712.5,445.3 714.0,444.2 715.5,442.9 717.0,441.7 718.5,440.5 720.0,439.2 721.5,437.9 723.0,436.6 724.5,435.2 726.0,433.8 727.5,432.4 729.0,431.0 730.5,429.6 732.0,428.1 733.5,426.6 735.0,425.0 736.5,423.4 738.0,421.8 739.5,420.1 741.0,418.4 742.5,416.6 744.0,414.7 745.5,412.7 747.0,410.7 748.5,408.6 750.0,406.4 751.5,404.1 753.0,401.7 754.5,399.2 756.0,396.6 757.5,393.9 759.0,391.1 760.5,388.2 762.0,385.3 763.5,382.3 765.0,379.2 766.5,376.1 768.0,372.9 769.5,369.7 771.0,366.4 772.5,363.1 774.0,359.7 775.5,356.3 777.0,352.8 778.5,349.4 780.0,345.9 781.5,342.4 783.0,338.8 784.5,335.3 786.0,331.8 787.5,328.3 789.0,324.7 790.5,321.2 792.0,317.7 793.5,314.2 795.0,310.7 796.5,307.2 798.0,303.8 799.5,300.4 801.0,297.0 802.5,293.6 804.0,290.2 805.5,286.9 807.0,283.7 808.5,280.4 810.0,277.2 811.5,274.1 813.0,271.0 814.5,267.9 816.0,264.9 817.5,261.9 819.0,258.9 820.5,256.0 822.0,253.2 823.5,250.4 825.0,247.7 826.5,245.0 828.0,242.4 829.5,239.8 831.0,237.3 832.5,234.9 834.0,232.5 835.5,230.3 837.0,228.0 838.5,225.9 840.0,223.8 841.5,221.8 843.0,219.8 844.5,217.9 846.0,216.0 847.5,214.3 849.0,212.6 850.5,210.9 852.0,209.3 853.5,207.8 855.0,206.3 856.5,204.9 858.0,203.6 859.5,202.3 861.0,201.1 862.5,199.9 864.0,198.8 865.5,197.7 867.0,196.7 868.5,195.7 870.0,194.8 871.5,193.9 873.0,193.0 874.5,192.2 876.0,191.4 877.5,190.6 879.0,189.9 880.5,189.2 882.0,188.5 883.5,187.8 885.0,187.2 886.5,186.5 888.0,185.9 889.5,185.3 891.0,184.8 892.5,184.2 894.0,183.6 895.5,183.1 897.0,182.6 898.5,182.1 900.0,181.6 901.5,181.1 903.0,180.6 904.5,180.1 906.0,179.7 907.5,179.2 909.0,178.8 910.5,178.4 912.0,178.0 913.5,177.6 915.0,177.2 916.5,176.8 918.0,176.4 919.5,176.1 921.0,175.7 922.5,175.4 924.0,175.0 925.5,174.7 927.0,174.4 928.5,174.1 930.0,173.8 931.5,173.5 933.0,173.2 934.5,172.9 936.0,172.6 937.5,172.3 939.0,172.0 940.5,171.8 942.0,171.5 943.5,171.3 945.0,171.0 946.5,170.8 948.0,170.5 949.5,170.3 951.0,170.0 952.5,169.8 954.0,169.5 955.5,169.3 957.0,169.1 958.5,168.8 960.0,168.6 961.5,168.4 963.0,168.1 964.5,167.9 966.0,167.7 967.5,167.5 969.0,167.2 970.5,167.0 972.0,166.8 973.5,166.5 975.0,166.3 976.5,166.1 978.0,165.8 979.5,165.6 981.0,165.3 982.5,165.1 984.0,164.9 985.5,164.6 987.0,164.3 988.5,164.1 990.0,163.8 991.5,163.6 993.0,163.3 994.5,163.0 996.0,162.7 997.5,162.4 999.0,162.1 1000.5,161.8 1002.0,161.5 1003.5,161.2 1005.0,160.9 1006.5,160.6 1008.0,160.2 1009.5,159.9 1011.0,159.5 1012.5,159.2 1014.0,158.8 1015.5,158.4 1017.0,158.0 1018.5,157.6 1020.0,157.2 1021.5,156.8 1023.0,156.4 1024.5,156.0 1026.0,155.5 1027.5,155.1 1029.0,154.6 1030.5,154.1 1032.0,153.7 1033.5,153.2 1035.0,152.8 1036.5,152.4 1038.0,151.9 1039.5,151.5 1041.0,151.1 1042.5,150.8 1044.0,150.4 1045.5,150.1 1047.0,149.8 1048.5,149.5 1050.0,149.3 1051.5,149.1 1053.0,148.8 1054.5,148.6 1056.0,148.4 1057.5,148.3 1059.0,148.1 1060.5,147.9 1062.0,147.7 1063.5,147.5 1065.0,147.3 1066.5,147.1 1068.0,146.9 1069.5,146.7 1071.0,146.4 1072.5,146.2 1074.0,145.9 1075.5,145.6 1077.0,145.3 1078.5,145.0 1080.0,144.7 1081.5,144.4 1083.0,144.1 1084.5,143.8 1086.0,143.5 1087.5,143.1 1089.0,142.8 1090.5,142.4 1092.0,142.1 1093.5,141.8 1095.0,141.4 1096.5,141.1 1098.0,140.7 1099.5,140.4 1101.0,140.0 1102.5,139.7 1104.0,139.3 1105.5,139.0 1107.0,138.6 1108.5,138.3 1110.0,138.0 1111.5,137.6 1113.0,137.3 1114.5,137.0 1116.0,136.7 1117.5,136.4 1119.0,136.1 1120.5,135.8 1122.0,135.5 1123.5,135.2 1125.0,134.9 1126.5,134.7 1128.0,134.4 1129.5,134.1 1131.0,133.9 1132.5,133.6 1134.0,133.3 1135.5,133.1 1137.0,132.8 1138.5,132.6 1140.0,132.3 1141.5,132.1 1143.0,131.8 1144.5,131.6 1146.0,131.4 1147.5,131.1 1149.0,130.9 1150.5,130.7 1152.0,130.4 1153.5,130.2 1155.0,130.0 1156.5,129.7 1158.0,129.5 1159.5,129.3 1161.0,129.0 1162.5,128.8 1164.0,128.6 1165.5,128.4 1167.0,128.1 1168.5,127.9 1170.0,127.7 1171.5,127.4 1173.0,127.2 1174.5,127.0 1176.0,126.7 1177.5,126.5 1179.0,126.3 1180.5,126.0 1182.0,125.8 1183.5,125.5 1185.0,125.3 1186.5,125.1 1188.0,124.8 1189.5,124.6 1191.0,124.3 1192.5,124.1 1194.0,123.8 1195.5,123.5 1197.0,123.3 1198.5,123.0 1200.0,122.8 1201.5,122.5 1203.0,122.2 1204.5,122.0 1206.0,121.7 1207.5,121.4 1209.0,121.2 1210.5,120.9 1212.0,120.6 1213.5,120.4 1215.0,120.1 1216.5,119.8 1218.0,119.5 1219.5,119.3 1221.0,119.0 1222.5,118.7 1224.0,118.4 1225.5,118.2 1227.0,117.9 1228.5,117.6 1230.0,117.3 1231.5,117.0 1233.0,116.7 1234.5,116.5 1236.0,116.2 1237.5,115.9 1239.0,115.6 1240.5,115.3 1242.0,115.0 1243.5,114.7 1245.0,114.5 1246.5,114.2 1248.0,113.9 1249.5,113.6 1251.0,113.3 1252.5,113.0 1254.0,112.7 1255.5,112.4 1257.0,112.1 1258.5,111.9 1260.0,111.6 1261.5,111.3 1263.0,111.0 1264.5,110.7 1266.0,110.4 1267.5,110.1 1269.0,109.8 1270.5,109.5 1272.0,109.2 1273.5,108.9 1275.0,108.7 1276.5,108.4 1278.0,108.1 1279.5,107.8 1281.0,107.5 1282.5,107.2 1284.0,106.9 1285.5,106.6 1287.0,106.3 1288.5,106.1 1290.0,105.8 1291.5,105.5 1293.0,105.2 1294.5,104.9 1296.0,104.6 1297.5,104.3 1299.0,104.1 1300.5,103.8 1302.0,103.5 1303.5,103.2 1305.0,102.9 1306.5,102.7 1308.0,102.4 1309.5,102.1 1311.0,101.8 1312.5,101.6 1314.0,101.3 1315.5,101.0 1317.0,100.7 1318.5,100.5 1320.0,100.2 1321.5,99.9 1323.0,99.7 1324.5,99.4 1326.0,99.1 1327.5,98.9 1329.0,98.6 1330.5,98.4 1332.0,98.1 1333.5,97.8 1335.0,97.6 1336.5,97.3 1338.0,97.1 1339.5,96.8 1341.0,96.6 1342.5,96.3 1344.0,96.1 1345.5,95.8 1347.0,95.6 1348.5,95.4 1350.0,95.1 1351.5,94.9 1353.0,94.6 1354.5,94.4 1356.0,94.2 1357.5,93.9 1359.0,93.7 1360.5,93.5 1362.0,93.3 1363.5,93.0 1365.0,92.8 1366.5,92.6 1368.0,92.4" fill="none" stroke="#ff0000" stroke-width="8.7" stroke-linejoin="round"/>
</g>
<text transform="translate(1087.8,120.9) rotate(-9.5) scale(1,1.04)" font-size="54.17" fill="#ff0000" font-weight="bold">T<tspan font-size="37.92" dy="14" dx="-5">a</tspan><tspan dy="-14" word-spacing="-0.9"> =<tspan dx="2"> </tspan>140 °C</tspan></text>
<text transform="translate(1087.8,260.1) rotate(-9.5) scale(1,1.04)" font-size="54.17" fill="#ff9900" font-weight="bold">T<tspan font-size="37.92" dy="14" dx="-5">a</tspan><tspan dy="-14" word-spacing="-0.9"> =<tspan dx="2"> </tspan>135 °C</tspan></text>
<text transform="translate(1085.5,376.2) rotate(-9.5) scale(1,1.04)" font-size="54.17" fill="#009900" font-weight="bold">T<tspan font-size="37.92" dy="14" dx="-5">a</tspan><tspan dy="-14" word-spacing="-0.9"> =<tspan dx="2"> </tspan>130 °C</tspan></text>
<text transform="translate(1088.3,460.5) rotate(-9.5) scale(1,1.04)" font-size="54.17" fill="#0000ff" font-weight="bold">T<tspan font-size="37.92" dy="14" dx="-5">a</tspan><tspan dy="-14" word-spacing="-0.9"> =<tspan dx="2"> </tspan>125 °C</tspan></text>
<text transform="translate(1090.4,528.8) rotate(-9.5) scale(1,1.04)" font-size="54.17" fill="#000068" font-weight="bold">T<tspan font-size="37.92" dy="14" dx="-5">a</tspan><tspan dy="-14" word-spacing="-0.9"> =<tspan dx="2"> </tspan>120 °C</tspan></text>

<!-- frame -->
<rect x="123" y="28" width="1245" height="1009" fill="none" stroke="#000" stroke-width="8"/>
<rect x="188" y="1037" width="8" height="10" fill="#000"/>
<rect x="326" y="1037" width="8" height="20" fill="#000"/>
<text transform="translate(330.5,1115.5) scale(1,1.04)" text-anchor="middle" font-size="58.33" font-weight="bold">40</text>
<rect x="465" y="1037" width="8" height="10" fill="#000"/>
<rect x="603" y="1037" width="8" height="20" fill="#000"/>
<text transform="translate(607.2,1115.5) scale(1,1.04)" text-anchor="middle" font-size="58.33" font-weight="bold">60</text>
<rect x="741" y="1037" width="8" height="10" fill="#000"/>
<rect x="880" y="1037" width="8" height="20" fill="#000"/>
<text transform="translate(883.8,1115.5) scale(1,1.04)" text-anchor="middle" font-size="58.33" font-weight="bold">80</text>
<rect x="1018" y="1037" width="8" height="10" fill="#000"/>
<rect x="1156" y="1037" width="8" height="20" fill="#000"/>
<text transform="translate(1160.5,1115.5) scale(1,1.04)" text-anchor="middle" font-size="58.33" font-weight="bold">100</text>
<rect x="1295" y="1037" width="8" height="10" fill="#000"/>

<!-- axis labels -->
<text transform="translate(667.1,1208.1) scale(0.987,1.04)" font-size="66.67" font-weight="bold">T (°C)</text>
<text transform="translate(77,655.3) rotate(-90) scale(1.009,1.04)" font-size="66.67" font-weight="bold">Rev. HF</text>
<!-- scale arrow -->
<rect x="172" y="120" width="8" height="115" fill="#000"/>
<polygon points="176,90.5 165,126 187,126" fill="#000"/>
<rect x="164" y="231" width="23" height="8" fill="#000"/>
<text transform="translate(203.3,161.3) scale(1,1.04)" font-size="54.17" font-weight="bold" letter-spacing="0.5">endo</text>
<text transform="translate(203.3,224.9) scale(1,1.04)" font-size="54.17" font-weight="bold">0.02 W.g<tspan dx="1" font-size="37.92" dy="-15.5">−1</tspan></text>
<!-- bottom annotation -->
<text transform="translate(489,991.5) scale(1,1.04)" font-size="54.17" font-weight="bold">q<tspan font-size="37.92" dy="14" dx="-1.3">+</tspan><tspan dy="-14" dx="0.3" letter-spacing="-0.2"> = 5°C.min</tspan><tspan font-size="37.92" dy="-14" dx="-1">−1</tspan><tspan dy="14" letter-spacing="-0.09"> ± 0.531°C per 40s</tspan></text>
</svg>
</body></html>
